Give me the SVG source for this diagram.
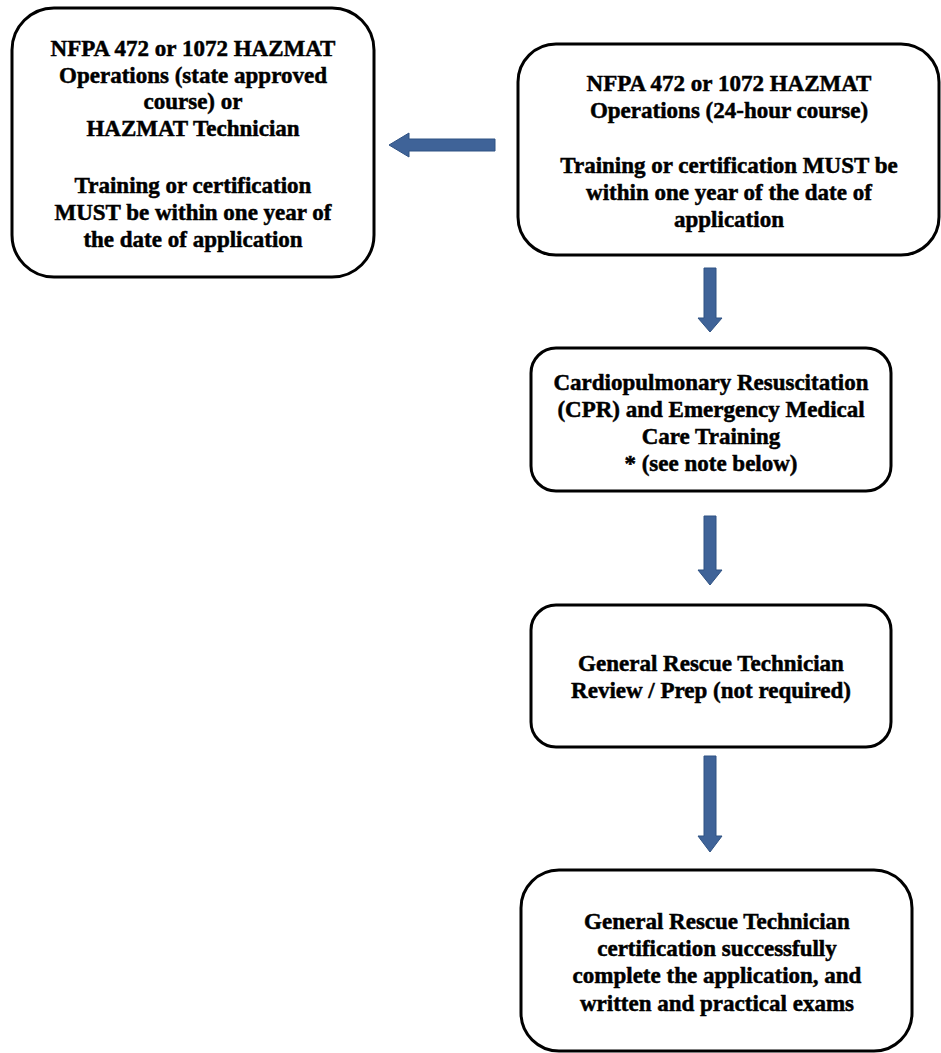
<svg xmlns="http://www.w3.org/2000/svg" width="941" height="1053" viewBox="0 0 941 1053">
<style>
.box{fill:#fff;stroke:#000;stroke-width:3}
.t{font-family:"Liberation Serif","Times New Roman",serif;font-weight:bold;font-size:23px;fill:#000;stroke:#000;stroke-width:0.5;text-anchor:middle}
.arr{fill:#3f6398;stroke:#2f5283;stroke-width:1}
</style>
<rect width="941" height="1053" fill="#fff"/>
<g id="connectors">
<path class="arr" d="M495,139 L409,139 L409,133 L389,145 L409,157 L409,151 L495,151 Z"/>
<path class="arr" d="M704,268 L716,268 L716,318 L722,318 L710,332 L698,318 L704,318 Z"/>
<path class="arr" d="M704,516 L716,516 L716,570 L722,570 L710,585 L698,570 L704,570 Z"/>
<path class="arr" d="M704,756 L716,756 L716,836 L722,836 L710,852 L698,836 L704,836 Z"/>
</g>
<g id="node1">
<rect class="box" x="12" y="8" width="362" height="269" rx="42"/>
<text class="t" x="193" y="56">NFPA 472 or 1072 HAZMAT</text>
<text class="t" x="193" y="83">Operations (state approved</text>
<text class="t" x="193" y="109">course) or</text>
<text class="t" x="193" y="136">HAZMAT Technician</text>
<text class="t" x="193" y="193">Training or certification</text>
<text class="t" x="193" y="220">MUST be within one year of</text>
<text class="t" x="193" y="247">the date of application</text>
</g>
<g id="node2">
<rect class="box" x="518" y="44" width="421" height="211" rx="38"/>
<text class="t" x="729" y="91">NFPA 472 or 1072 HAZMAT</text>
<text class="t" x="729" y="118">Operations (24-hour course)</text>
<text class="t" x="729" y="173">Training or certification MUST be</text>
<text class="t" x="729" y="200">within one year of the date of</text>
<text class="t" x="729" y="227">application</text>
</g>
<g id="node3">
<rect class="box" x="531" y="348" width="360" height="143" rx="25"/>
<text class="t" x="711" y="390">Cardiopulmonary Resuscitation</text>
<text class="t" x="711" y="417">(CPR) and Emergency Medical</text>
<text class="t" x="711" y="444">Care Training</text>
<text class="t" x="711" y="471">* (see note below)</text>
</g>
<g id="node4">
<rect class="box" x="531" y="605" width="360" height="142" rx="25"/>
<text class="t" x="711" y="671">General Rescue Technician</text>
<text class="t" x="711" y="698">Review / Prep (not required)</text>
</g>
<g id="node5">
<rect class="box" x="521" y="870" width="391" height="181" rx="38"/>
<text class="t" x="717" y="929">General Rescue Technician</text>
<text class="t" x="717" y="956">certification successfully</text>
<text class="t" x="717" y="983">complete the application, and</text>
<text class="t" x="717" y="1011">written and practical exams</text>
</g>
</svg>
